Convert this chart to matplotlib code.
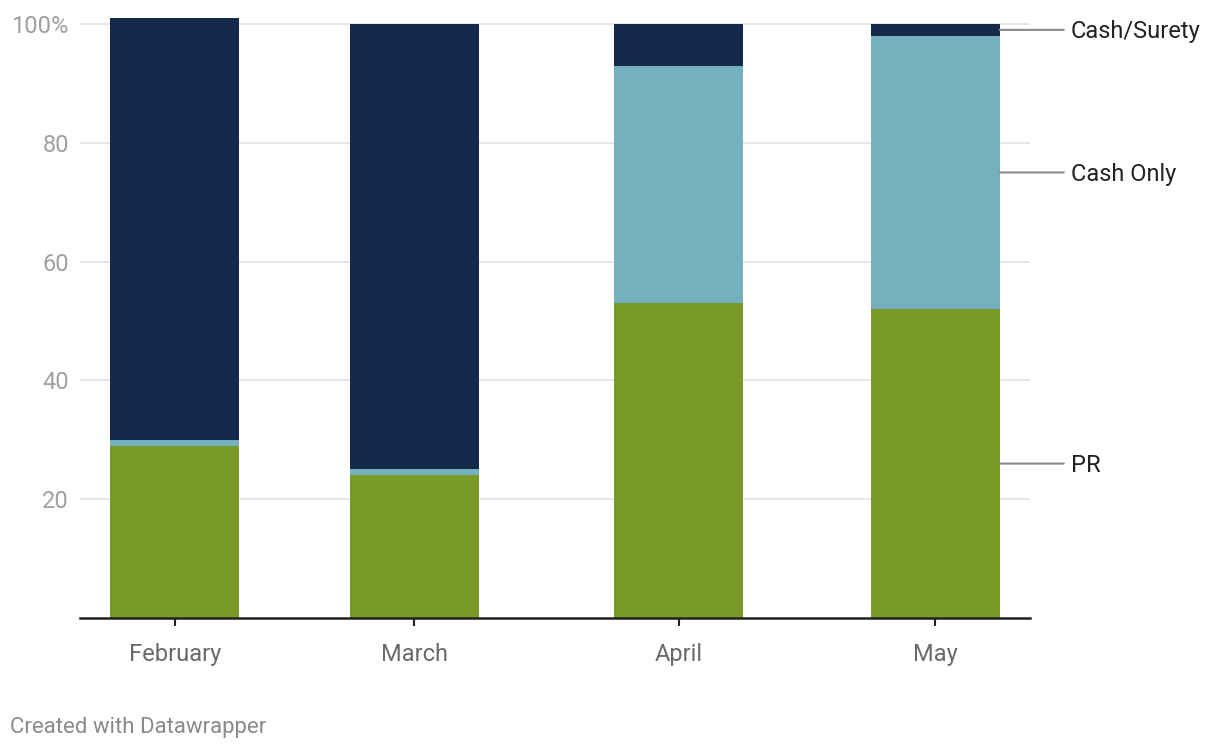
import numpy as np
import pandas as pd
import matplotlib
matplotlib.use("Agg")
import matplotlib.pyplot as plt
import matplotlib.dates as mdates

# data
months = ["February", "March", "April", "May"]
month_starts = ["2021-02-01", "2021-03-01", "2021-04-01", "2021-05-01"]
pr = [29, 24, 53, 52]
cash_only = [1, 1, 40, 46]
cash_surety = [71, 75, 7, 2]

series_names = ["PR", "Cash Only", "Cash/Surety"]
series_colors = ["#7a9a28", "#74b0bd", "#15294b"]

plt.rcParams["font.family"] = ["Roboto", "DejaVu Sans"]

fig = plt.figure(figsize=(12.2, 7.52), dpi=100)
ax = fig.add_axes([80 / 1220, 134 / 752, 950 / 1220, 600 / 752])

x = mdates.date2num(pd.to_datetime(month_starts))
bar_w = 15.1  # days

bottom = np.zeros(len(months))
for vals, color in zip([pr, cash_only, cash_surety], series_colors):
    ax.bar(x, vals, width=bar_w, bottom=bottom, color=color, zorder=2, linewidth=0)
    bottom += np.array(vals)

ax.set_xlim(x[0] - 11.1, x[-1] + 11.1)
ax.set_ylim(0, 101)

# grid
yticks = [20, 40, 60, 80, 100]
for yv in yticks:
    ax.axhline(yv, color="#e3e3e3", linewidth=1.2, zorder=1)
ax.set_yticks(yticks)
ax.set_yticklabels(["20", "40", "60", "80", "100%"])
ax.tick_params(axis="y", length=0, pad=8, labelsize=17, labelcolor="#a0a0a0")

ax.set_xticks(x)
ax.set_xticklabels(months)
ax.tick_params(axis="x", length=6, width=1.5, color="#222222", pad=12,
               labelsize=17, labelcolor="#6a6a6a")

for s in ["top", "right", "left"]:
    ax.spines[s].set_visible(False)
ax.spines["bottom"].set_linewidth(1.8)
ax.spines["bottom"].set_color("#222222")
ax.spines["bottom"].set_zorder(3)

# direct labels at the right of the last bar
bar_right = x[-1] + bar_w / 2
last_bottom = 0
for vals, name in zip([pr, cash_only, cash_surety], series_names):
    mid = last_bottom + vals[-1] / 2
    last_bottom += vals[-1]
    ax.annotate("", xy=(bar_right, mid), xytext=(bar_right + 7.5, mid),
                xycoords="data", textcoords="data",
                arrowprops=dict(arrowstyle="-", color="#8a8a8a", lw=1.5,
                                shrinkA=0, shrinkB=0),
                annotation_clip=False)
    ax.text(bar_right + 8.3, mid - 0.3, name, fontsize=17, color="#222222",
            va="center", ha="left", clip_on=False)

fig.text(10 / 1220, 1 - 728 / 752, "Created with Datawrapper", fontsize=16,
         color="#8a8a8a", va="center", ha="left")

fig.savefig("out.png", dpi=100)
